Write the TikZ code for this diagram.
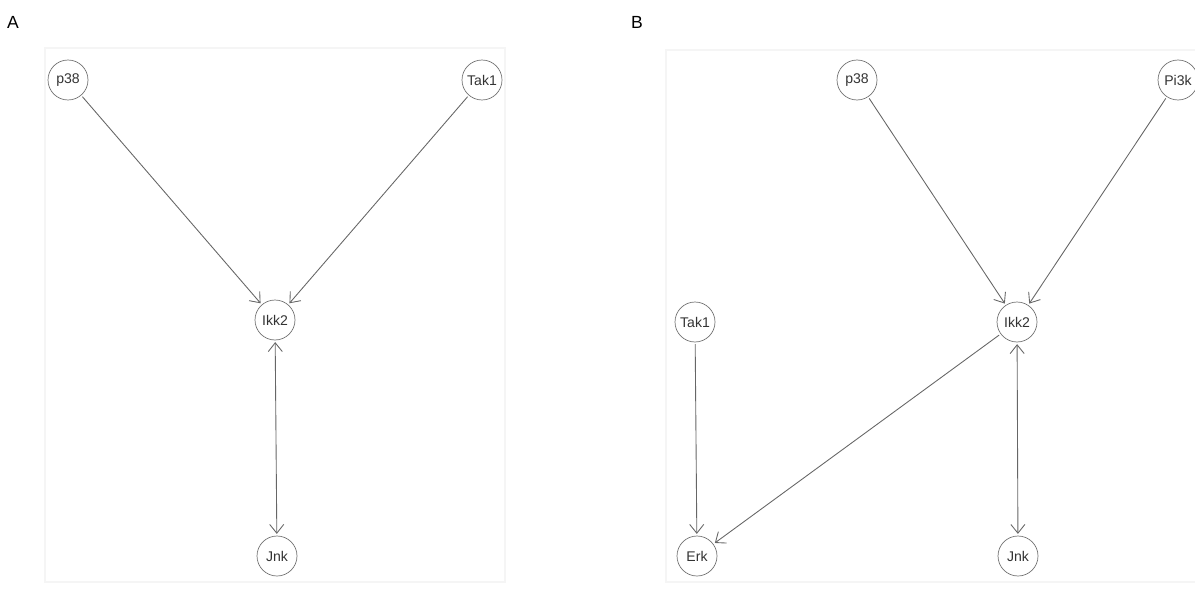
\documentclass[tikz,border=0pt]{standalone}
\usepackage{fontspec}
\setmainfont{Liberation Sans}
\usetikzlibrary{arrows.meta}

\begin{document}
\begin{tikzpicture}[
    x=0.02cm, y=-0.02cm,
    gene/.style={
      draw=black!55,
      circle,
      minimum size=0.8cm,
      inner sep=0pt,
      font=\fontsize{8}{9}\selectfont,
      text=black!80
    },
    panel/.style={
      font=\fontsize{10}{12}\selectfont
    },
    frame/.style={draw=black!4, line width=0.6pt},
    edge/.style={draw=black!60, line width=0.5pt, shorten <=1pt, shorten >=1pt},
    >={Straight Barb[length=5pt, width=8pt]}
  ]
    \useasboundingbox (0,0) rectangle (1195,588);

    % panel A
    \node[panel] (labA) at (13,22) {A};
    \draw[frame] (45,48) rectangle (505,582);
    \node[gene] (p38A) at (68,80) {p38};
    \node[gene] (tak1A) at (482,80) {Tak1};
    \node[gene] (ikk2A) at (275,320) {Ikk2};
    \node[gene] (jnkA) at (277,556) {Jnk};

    \draw[edge, ->] (p38A) -- (ikk2A);
    \draw[edge, ->] (tak1A) -- (ikk2A);
    \draw[edge, <->] (ikk2A) -- (jnkA);

    % panel B
    \node[panel] (labB) at (637,22) {B};
    \draw[frame] (666,50) rectangle (1200,582);
    \node[gene] (p38B) at (857,80) {p38};
    \node[gene] (pi3kB) at (1178,80) {Pi3k};
    \node[gene] (tak1B) at (695,322) {Tak1};
    \node[gene] (ikk2B) at (1017,322) {Ikk2};
    \node[gene] (erkB) at (697,556) {Erk};
    \node[gene] (jnkB) at (1018,556) {Jnk};

    \draw[edge, ->] (p38B) -- (ikk2B);
    \draw[edge, ->] (pi3kB) -- (ikk2B);
    \draw[edge, ->] (tak1B) -- (erkB);
    \draw[edge, ->] (ikk2B) -- (erkB);
    \draw[edge, <->] (ikk2B) -- (jnkB);
  \end{tikzpicture}
\end{document}
